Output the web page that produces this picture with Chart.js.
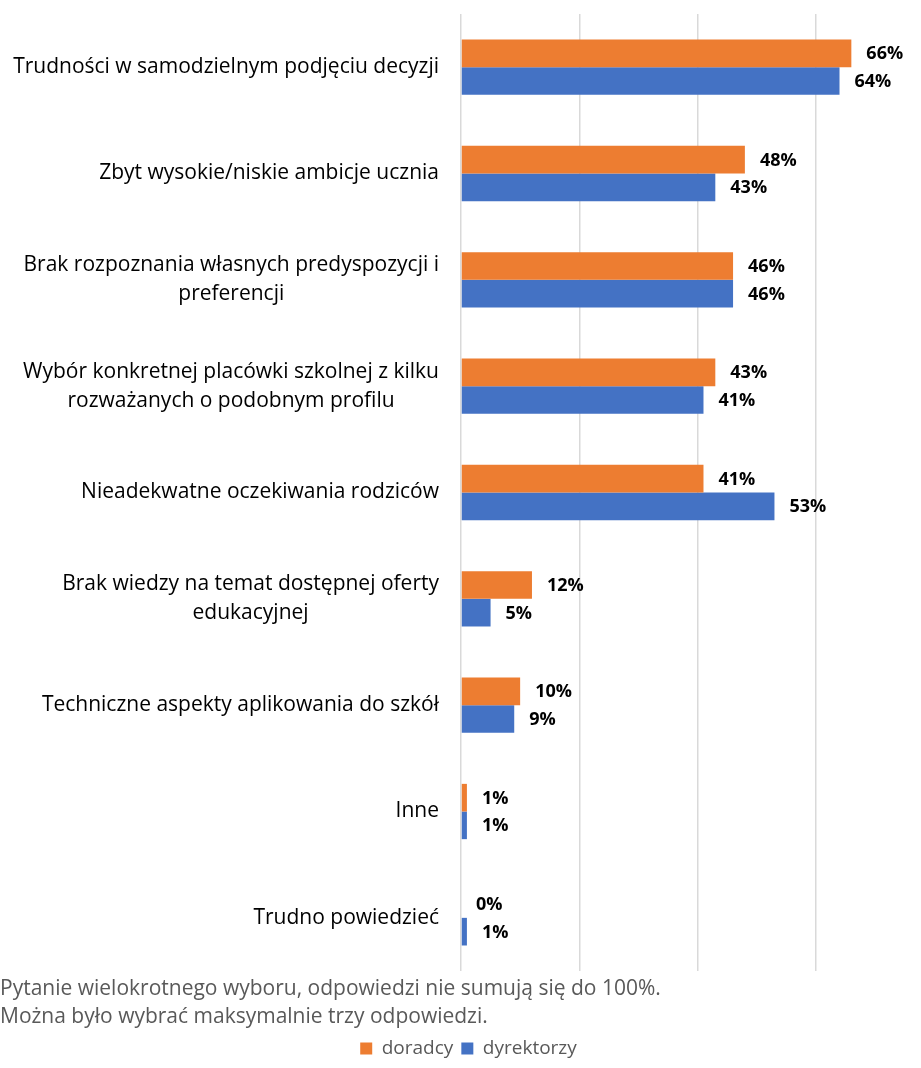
<!DOCTYPE html>
<html>
<head>
<meta charset="utf-8">
<script src="https://cdn.jsdelivr.net/npm/chart.js@4.4.1/dist/chart.umd.min.js"></script>
<style>
  html, body { margin: 0; padding: 0; background: #ffffff; }
  #wrap { position: relative; width: 921px; height: 1068px; }
</style>
</head>
<body>
<div id="wrap"><canvas id="c"></canvas></div>
<script>
// Category labels (each entry = lines of the label)
const categories = [
  ['Trudności w samodzielnym podjęciu decyzji'],
  ['Zbyt wysokie/niskie ambicje ucznia'],
  ['Brak rozpoznania własnych predyspozycji i', 'preferencji'],
  ['Wybór konkretnej placówki szkolnej z kilku', 'rozważanych o podobnym profilu'],
  ['Nieadekwatne oczekiwania rodziców'],
  ['Brak wiedzy na temat dostępnej oferty', 'edukacyjnej'],
  ['Techniczne aspekty aplikowania do szkół'],
  ['Inne'],
  ['Trudno powiedzieć']
];
// Share of answers, in percent
const doradcy = [66, 48, 46, 43, 41, 12, 10, 1, 0];
const dyrektorzy = [64, 43, 46, 41, 53, 5, 9, 1, 1];
const seriesNames = ['doradcy', 'dyrektorzy'];
const notes = [
  'Pytanie wielokrotnego wyboru, odpowiedzi nie sumują się do 100%.',
  'Można było wybrać maksymalnie trzy odpowiedzi.'
];

const FONT = '"Open Sans", Lato, sans-serif';

// Multi-line category labels: block right-aligned to the axis, lines centred within the block
const categoryLabels = {
  id: 'categoryLabels',
  afterDraw(chart) {
    const scale = chart.scales.y;
    const ctx = chart.ctx;
    ctx.save();
    ctx.font = '21px ' + FONT;
    ctx.fillStyle = '#000000';
    ctx.textAlign = 'center';
    ctx.textBaseline = 'middle';
    const lineH = 29;
    const right = scale.right - 22;
    categories.forEach((lines, i) => {
      const y = scale.getPixelForTick(i);
      const w = Math.max(...lines.map(l => ctx.measureText(l).width));
      const cx = right - w / 2;
      lines.forEach((l, j) => {
        ctx.fillText(l, cx, y + (j - (lines.length - 1) / 2) * lineH);
      });
    });
    ctx.restore();
  }
};

// Value labels at the end of each bar
const valueLabels = {
  id: 'valueLabels',
  afterDatasetsDraw(chart) {
    const ctx = chart.ctx;
    ctx.save();
    ctx.font = 'bold 18px ' + FONT;
    ctx.fillStyle = '#000000';
    ctx.textAlign = 'left';
    ctx.textBaseline = 'middle';
    chart.data.datasets.forEach((ds, di) => {
      const meta = chart.getDatasetMeta(di);
      meta.data.forEach((bar, i) => {
        ctx.fillText(ds.data[i] + '%', bar.x + 15, bar.y + 1);
      });
    });
    ctx.restore();
  }
};

// Centre the legend on the whole canvas instead of the padded layout width
const legendShift = {
  id: 'legendShift',
  afterLayout(chart) {
    const lg = chart.legend;
    const dx = (chart.width - (lg.left + lg.right)) / 2 + 8;
    lg.left += dx;
    lg.right += dx;
  }
};

new Chart(document.getElementById('c'), {
  type: 'bar',
  data: {
    labels: categories.map(l => l.join(' ')),
    datasets: [
      { label: seriesNames[0], data: doradcy, backgroundColor: '#ED7D31' },
      { label: seriesNames[1], data: dyrektorzy, backgroundColor: '#4472C4' }
    ]
  },
  options: {
    indexAxis: 'y',
    responsive: true,
    maintainAspectRatio: false,
    animation: false,
    layout: { padding: { top: 14, right: 46, bottom: 0, left: 0 } },
    datasets: { bar: { categoryPercentage: 0.52, barPercentage: 1.0 } },
    scales: {
      x: {
        min: 0,
        max: 70,
        ticks: { display: false, stepSize: 20 },
        border: { display: false },
        grid: {
          drawTicks: false,
          tickLength: 0,
          lineWidth: 1.5,
          color: c => (c.tick && c.tick.value % 20 === 0) ? '#d9d9d9' : 'rgba(0,0,0,0)'
        }
      },
      y: {
        ticks: { display: false },
        grid: { display: false },
        border: { display: false },
        afterFit(scale) { scale.width = 461; }
      }
    },
    plugins: {
      tooltip: { enabled: false },
      title: {
        display: true,
        position: 'bottom',
        align: 'start',
        weight: 500,
        text: notes,
        color: '#595959',
        font: { family: FONT, size: 21, weight: 'normal', lineHeight: 1.333 },
        padding: { top: 4, bottom: 0 }
      },
      legend: {
        position: 'bottom',
        labels: {
          color: '#595959',
          font: { family: FONT, size: 19 },
          boxWidth: 12,
          boxHeight: 12,
          padding: 8
        }
      }
    }
  },
  plugins: [categoryLabels, valueLabels, legendShift]
});
</script>
</body>
</html>
